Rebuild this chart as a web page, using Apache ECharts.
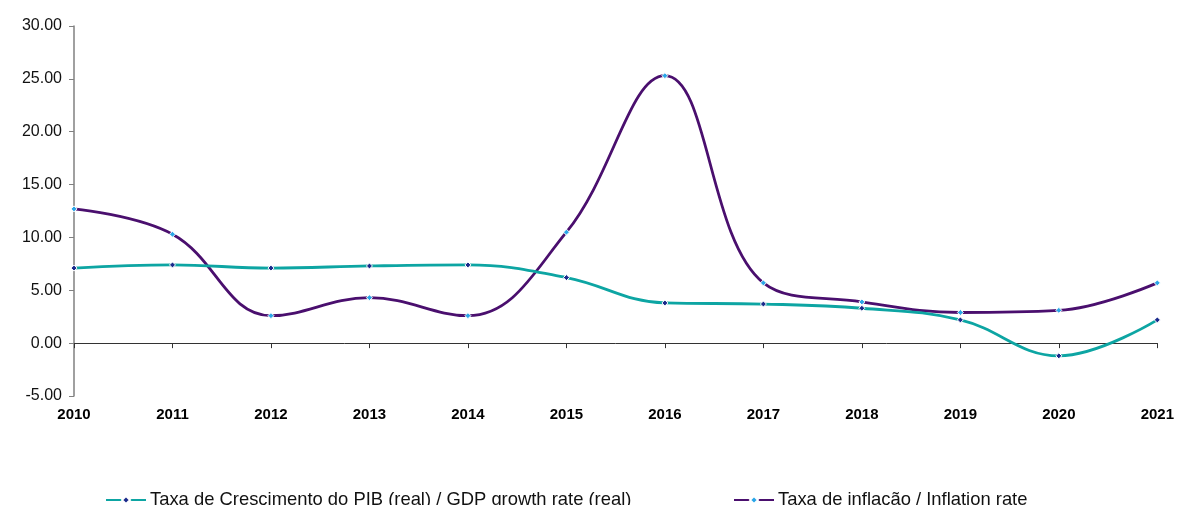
<!DOCTYPE html>
<html>
<head>
<meta charset="utf-8">
<script src="https://cdn.jsdelivr.net/npm/echarts@6/dist/echarts.min.js"></script>
<style>
    html, body { margin: 0; padding: 0; background: #fff; }
    #chart { width: 1177px; height: 505px; }
</style>
</head>
<body>
<div id="chart"></div>
<script>
// 資料
var years = ['2010', '2011', '2012', '2013', '2014', '2015', '2016', '2017', '2018', '2019', '2020', '2021'];
var gdpGrowth = [7.1, 7.4, 7.1, 7.3, 7.4, 6.2, 3.8, 3.7, 3.3, 2.2, -1.2, 2.2];
var inflation = [12.7, 10.3, 2.6, 4.3, 2.6, 10.5, 25.3, 5.7, 3.9, 2.9, 3.1, 5.7];
var gdpName = 'Taxa de Crescimento do PIB (real) / GDP growth rate (real)';
var inflName = 'Taxa de inflação / Inflation rate';

var chart = echarts.init(document.getElementById('chart'));
var font = 'Liberation Sans, Arial, sans-serif';

var option = {
    animation: false,
    grid: { left: 74, right: 13, top: 26, bottom: 109 },
    legend: [
        {
            data: [gdpName], left: 100, top: 486,
            itemWidth: 40, itemHeight: 10,
            textStyle: { fontFamily: font, fontSize: 18.4, color: '#111', padding: [0, 0, 0, -1] }
        },
        {
            data: [inflName], left: 728, top: 486,
            itemWidth: 40, itemHeight: 10,
            textStyle: { fontFamily: font, fontSize: 18.4, color: '#111', padding: [0, 0, 0, -1] }
        }
    ],
    xAxis: [
        {
            type: 'category', data: years, boundaryGap: false,
            axisLine: { onZero: true, lineStyle: { color: '#333', width: 1 } },
            axisTick: { show: true, length: 5, lineStyle: { color: '#333' } },
            axisLabel: { show: false }
        },
        {
            type: 'category', data: years, boundaryGap: false, position: 'bottom',
            axisLine: { show: false, onZero: false },
            axisTick: { show: false },
            axisLabel: { margin: 11, fontFamily: font, fontSize: 15, fontWeight: 'bold', color: '#000' }
        }
    ],
    yAxis: {
        type: 'value', min: -5, max: 30, interval: 5,
        axisLine: { show: true, lineStyle: { color: '#808080', width: 1.5 } },
        axisTick: { show: true, length: 5, lineStyle: { color: '#808080' } },
        splitLine: { show: false },
        axisLabel: {
            margin: 12, fontFamily: font, fontSize: 16, color: '#111',
            formatter: function (v) { return v.toFixed(2); }
        }
    },
    series: [
        {
            name: gdpName, type: 'line', data: gdpGrowth, smooth: 0.4,
            symbol: 'diamond', symbolSize: 6, showAllSymbol: true,
            lineStyle: { color: '#0DA5A3', width: 2.8 },
            itemStyle: { color: '#1B2A8C', borderColor: '#fff', borderWidth: 1 },
            z: 3
        },
        {
            name: inflName, type: 'line', data: inflation, smooth: 0.4,
            symbol: 'diamond', symbolSize: 6, showAllSymbol: true,
            lineStyle: { color: '#4A0F6E', width: 2.8 },
            itemStyle: { color: '#2AA6E8', borderColor: '#fff', borderWidth: 1 },
            z: 2
        }
    ]
};
chart.setOption(option);
</script>
</body>
</html>
